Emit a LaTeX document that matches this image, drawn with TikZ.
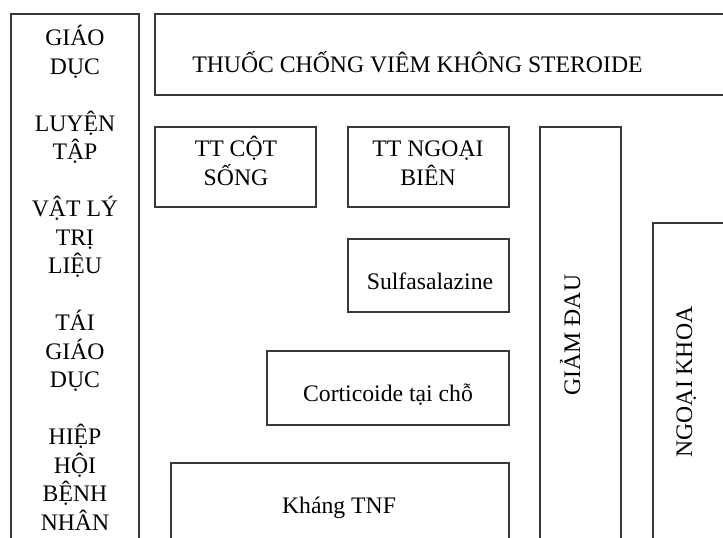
\documentclass[tikz,border=0pt]{standalone}
\usepackage{fontspec}
\setmainfont{Liberation Serif}
\begin{document}
\begin{tikzpicture}[x=1pt,y=-1pt,
  box/.style={draw=black!78,line width=1.2pt,inner sep=0pt,outer sep=0pt,anchor=north west},
  lbl/.style={inner sep=0pt,font=\fontsize{23.7}{28.5}\selectfont,anchor=base,align=center}]
\useasboundingbox (0,0) rectangle (723,538);
\clip (0,0) rectangle (723,538);
% boxes
\node[box,minimum width=128pt,minimum height=546pt] (edu) at (11,14) {};
\node[box,minimum width=590pt,minimum height=81pt] (nsaid) at (155,14) {};
\node[box,minimum width=161pt,minimum height=80pt] (cot) at (155,127) {};
\node[box,minimum width=161pt,minimum height=80pt] (ngoai) at (348,127) {};
\node[box,minimum width=161pt,minimum height=73pt] (sulfa) at (348,239) {};
\node[box,minimum width=242pt,minimum height=74pt] (cortico) at (267,351) {};
\node[box,minimum width=338pt,minimum height=100pt] (tnf) at (171,463) {};
\node[box,minimum width=81pt,minimum height=433pt] (giam) at (540,127) {};
\node[box,minimum width=90pt,minimum height=337pt] (khoa) at (653,223) {};
% texts (base anchor of a multi-line node = baseline of its last line)
\node[lbl] (edu-t) at (75,530) {GIÁO\\DỤC\\[28.5pt]LUYỆN\\TẬP\\[28.5pt]VẬT LÝ\\TRỊ\\LIỆU\\[28.5pt]TÁI\\GIÁO\\DỤC\\[28.5pt]HIỆP\\HỘI\\BỆNH\\NHÂN};
\node[lbl] (nsaid-t) at (417.5,72.3) {THUỐC CHỐNG VIÊM KHÔNG STEROIDE};
\node[lbl] (cot-t) at (236,185) {TT CỘT\\SỐNG};
\node[lbl] (ngoai-t) at (428,185) {TT NGOẠI\\BIÊN};
\node[lbl] (sulfa-t) at (430,289.3) {Sulfasalazine};
\node[lbl] (cortico-t) at (388,401.7) {Corticoide tại chỗ};
\node[lbl] (tnf-t) at (339,513) {Kháng TNF};
\node[lbl,rotate=90] (giam-t) at (580,335) {GIẢM ĐAU};
\node[lbl,rotate=90] (khoa-t) at (692,382) {NGOẠI KHOA};
\end{tikzpicture}
\end{document}
